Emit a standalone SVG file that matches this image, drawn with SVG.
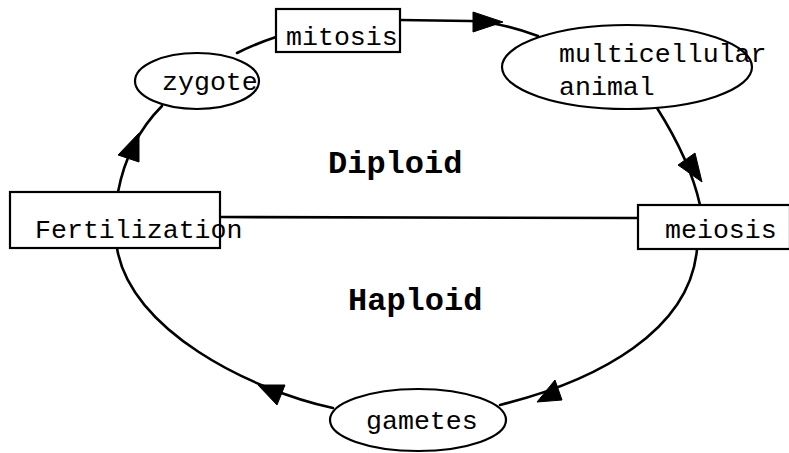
<svg xmlns="http://www.w3.org/2000/svg" width="789" height="453" viewBox="0 0 789 453">
<style>
.box{fill:#fff;stroke:#000;stroke-width:2.2}
.lbl{font-family:"Liberation Mono","DejaVu Sans Mono",monospace;font-size:26.6px;fill:#000}
.big{font-family:"Liberation Mono","DejaVu Sans Mono",monospace;font-size:32px;font-weight:bold;fill:#000}
.edge{fill:none;stroke:#000;stroke-width:2.6;stroke-linecap:round}
.head{fill:#000;stroke:#000;stroke-width:1;stroke-linejoin:round}
</style>
<rect width="789" height="453" fill="#fff"/>
<g id="connectors">
  <path class="edge" d="M118,192 Q128,140 162,106"/>
  <polygon class="head" points="139,133 118,155 139,162"/>
  <path class="edge" d="M237,53 Q255,44 276,37"/>
  <path class="edge" d="M400,20 L470,21 Q500,22 538,36"/>
  <polygon class="head" points="503,22 473,12 473,32"/>
  <path class="edge" d="M657,108 Q690,160 700,205"/>
  <polygon class="head" points="702,182 678,165 695,153"/>
  <path class="edge" d="M697,249 C690,330 600,380 500,405"/>
  <polygon class="head" points="537,402 555,380 562,400"/>
  <path class="edge" d="M333,408 C250,390 130,330 117,248"/>
  <polygon class="head" points="258,385 285,385 277,405"/>
  <path class="edge" d="M220,217 L638,218"/>
</g>
<g id="zygote">
  <ellipse class="box" cx="197" cy="81" rx="62" ry="28"/>
  <text class="lbl" x="162" y="90">zygote</text>
</g>
<g id="mitosis">
  <rect class="box" x="276" y="9" width="124" height="43"/>
  <text class="lbl" x="286" y="45">mitosis</text>
</g>
<g id="multicellular">
  <ellipse class="box" cx="627" cy="67" rx="125" ry="42"/>
  <text class="lbl" x="559" y="62">multicellular</text>
  <text class="lbl" x="559" y="95">animal</text>
</g>
<g id="fertilization">
  <rect class="box" x="10" y="192" width="210" height="56"/>
  <text class="lbl" x="35" y="238">Fertilization</text>
</g>
<g id="meiosis">
  <rect class="box" x="638" y="205" width="152" height="44"/>
  <text class="lbl" x="665" y="238">meiosis</text>
</g>
<g id="gametes">
  <ellipse class="box" cx="418" cy="420" rx="88" ry="31"/>
  <text class="lbl" x="366" y="429">gametes</text>
</g>
<g id="labels">
  <text class="big" x="328" y="173">Diploid</text>
  <text class="big" x="348" y="310">Haploid</text>
</g>
</svg>
